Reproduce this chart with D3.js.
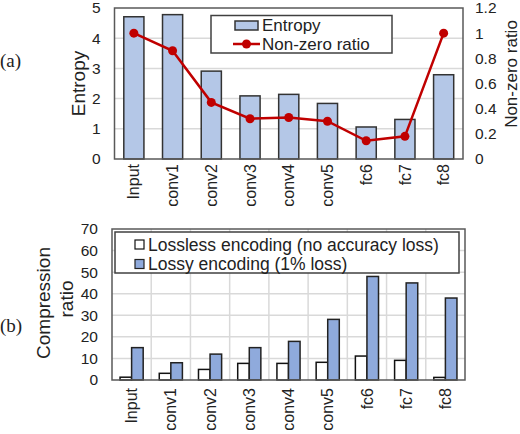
<!DOCTYPE html>
<html>
<head>
<meta charset="utf-8">
<script src="https://cdn.jsdelivr.net/npm/d3@7"></script>
<style>
  body { margin: 0; background: #fff; }
  text { font-family: "Liberation Sans", Arial, sans-serif; fill: #222; }
  .serif { font-family: "Liberation Serif", "DejaVu Serif", serif; }
</style>
</head>
<body>
<div class="chart"></div>
<script>
// layers shown on both panels
const layers = ["Input", "conv1", "conv2", "conv3", "conv4", "conv5", "fc6", "fc7", "fc8"]

// panel (a)
const entropy = [4.71, 4.78, 2.91, 2.09, 2.14, 1.84, 1.06, 1.31, 2.79]
const nonZero = [1.0, 0.86, 0.45, 0.32, 0.33, 0.30, 0.145, 0.18, 1.0]
const entropyTicks = [0, 1, 2, 3, 4, 5]
const ratioTicks = [0, 0.2, 0.4, 0.6, 0.8, 1, 1.2]

// panel (b)
const lossless = [1.3, 3.1, 4.9, 7.7, 7.7, 8.2, 11.1, 9.1, 1.2]
const lossy = [15, 8, 12, 15, 17.9, 28.1, 48, 45, 38]
const compTicks = [0, 10, 20, 30, 40, 50, 60, 70]

const width = 520
const height = 434

const svg = d3.select(".chart")
    .append("svg")
    .attr("width", width)
    .attr("height", height)

const grid = "#d9d9d9"
const frame = "#595959"
const fmt = d3.format("~g")

// ---------- (a) ----------
let a = {left: 114.5, right: 463, top: 8, bottom: 159}

const xA = d3.scaleBand()
    .domain(layers)
    .range([a.left, a.right])
    .paddingInner(0.48)
    .paddingOuter(0.24)

const yA = d3.scaleLinear().domain([0, 5]).range([a.bottom, a.top])
const yR = d3.scaleLinear().domain([0, 1.2]).range([a.bottom, a.top])

const gA = svg.append("g")

gA.append("g")
    .selectAll("line")
    .data(entropyTicks.slice(1, -1))
    .join("line")
    .attr("x1", a.left)
    .attr("x2", a.right)
    .attr("y1", d => yA(d))
    .attr("y2", d => yA(d))
    .attr("stroke", grid)
    .attr("stroke-width", 1.5)

gA.append("g")
    .selectAll("rect")
    .data(layers)
    .join("rect")
    .attr("x", d => xA(d))
    .attr("y", (d, i) => yA(entropy[i]))
    .attr("width", xA.bandwidth())
    .attr("height", (d, i) => a.bottom - yA(entropy[i]))
    .attr("fill", "#b4c7e7")
    .attr("stroke", "#333")
    .attr("stroke-width", 1.5)

const line = d3.line()
    .x((d, i) => xA(layers[i]) + xA.bandwidth() / 2)
    .y(d => yR(d))

gA.append("path")
    .datum(nonZero)
    .attr("d", line)
    .attr("fill", "none")
    .attr("stroke", "#c00000")
    .attr("stroke-width", 2.5)

gA.append("g")
    .selectAll("circle")
    .data(nonZero)
    .join("circle")
    .attr("cx", (d, i) => xA(layers[i]) + xA.bandwidth() / 2)
    .attr("cy", d => yR(d))
    .attr("r", 4.5)
    .attr("fill", "#c00000")

gA.append("rect")
    .attr("x", a.left)
    .attr("y", a.top)
    .attr("width", a.right - a.left)
    .attr("height", a.bottom - a.top)
    .attr("fill", "none")
    .attr("stroke", frame)
    .attr("stroke-width", 1.5)

gA.append("g")
    .attr("transform", `translate(${a.left},0)`)
    .call(d3.axisLeft(yA).tickValues(entropyTicks).tickSize(0).tickPadding(14).tickFormat(fmt))
gA.append("g")
    .attr("transform", `translate(${a.right},0)`)
    .call(d3.axisRight(yR).tickValues(ratioTicks).tickSize(0).tickPadding(12).tickFormat(fmt))

gA.selectAll(".domain").remove()
gA.selectAll(".tick text").style("font-size", "15.5px").attr("fill", "#333")

// rotated category labels
gA.append("g")
    .selectAll("text")
    .data(layers)
    .join("text")
    .attr("transform", d => `translate(${xA(d) + xA.bandwidth() / 2},164) rotate(-90)`)
    .attr("text-anchor", "end")
    .attr("dy", "0.35em")
    .style("font-size", "16px")
    .text(d => d)

gA.append("text")
    .attr("transform", "translate(85,83.5) rotate(-90)")
    .attr("text-anchor", "middle")
    .style("font-size", "19px")
    .text("Entropy")

gA.append("text")
    .attr("transform", "translate(517,74) rotate(-90)")
    .attr("text-anchor", "middle")
    .style("font-size", "17px")
    .text("Non-zero ratio")

gA.append("text")
    .attr("class", "serif")
    .attr("x", 0)
    .attr("y", 67)
    .style("font-size", "19px")
    .text("(a)")

// legend (a)
const legA = gA.append("g")
legA.append("rect")
    .attr("x", 211).attr("y", 15.5).attr("width", 181).attr("height", 37.5)
    .attr("fill", "#fff").attr("stroke", "#404040").attr("stroke-width", 1.5)
legA.append("rect")
    .attr("x", 235).attr("y", 21).attr("width", 23).attr("height", 9)
    .attr("fill", "#b4c7e7").attr("stroke", "#333").attr("stroke-width", 1.5)
legA.append("line")
    .attr("x1", 233).attr("x2", 260).attr("y1", 44).attr("y2", 44)
    .attr("stroke", "#c00000").attr("stroke-width", 2.5)
legA.append("circle")
    .attr("cx", 246.5).attr("cy", 44).attr("r", 4.5).attr("fill", "#c00000")
legA.append("text").attr("x", 262).attr("y", 31).style("font-size", "17px").text("Entropy")
legA.append("text").attr("x", 262).attr("y", 49.5).style("font-size", "17px").text("Non-zero ratio")

// ---------- (b) ----------
let b = {left: 112, right: 465, top: 229, bottom: 380}

const xB = d3.scaleBand()
    .domain(layers)
    .range([b.left, b.right])
    .paddingInner(0.41)
    .paddingOuter(0.205)

const series = ["lossless", "lossy"]
const xSub = d3.scaleBand().domain(series).range([0, xB.bandwidth()])
const yB = d3.scaleLinear().domain([0, 70]).range([b.bottom, b.top])

const gB = svg.append("g")

gB.append("g")
    .selectAll("line")
    .data(compTicks.slice(1, -1))
    .join("line")
    .attr("x1", b.left)
    .attr("x2", b.right)
    .attr("y1", d => yB(d))
    .attr("y2", d => yB(d))
    .attr("stroke", grid)
    .attr("stroke-width", 1.5)

// vertical grid at category boundaries
gB.append("g")
    .selectAll("line")
    .data(layers.slice(1))
    .join("line")
    .attr("x1", d => xB(d) - xB.step() * 0.205)
    .attr("x2", d => xB(d) - xB.step() * 0.205)
    .attr("y1", b.top)
    .attr("y2", b.bottom)
    .attr("stroke", grid)
    .attr("stroke-width", 1.5)

const groups = gB.append("g")
    .selectAll("g")
    .data(layers)
    .join("g")
    .attr("transform", d => `translate(${xB(d)},0)`)

groups.append("rect")
    .attr("x", xSub("lossless"))
    .attr("y", (d, i) => yB(lossless[i]))
    .attr("width", xSub.bandwidth())
    .attr("height", (d, i) => b.bottom - yB(lossless[i]))
    .attr("fill", "#fff")
    .attr("stroke", "#111")
    .attr("stroke-width", 1.5)

groups.append("rect")
    .attr("x", xSub("lossy"))
    .attr("y", (d, i) => yB(lossy[i]))
    .attr("width", xSub.bandwidth())
    .attr("height", (d, i) => b.bottom - yB(lossy[i]))
    .attr("fill", "#8faadc")
    .attr("stroke", "#222")
    .attr("stroke-width", 1.5)

gB.append("rect")
    .attr("x", b.left)
    .attr("y", b.top)
    .attr("width", b.right - b.left)
    .attr("height", b.bottom - b.top)
    .attr("fill", "none")
    .attr("stroke", frame)
    .attr("stroke-width", 1.5)

gB.append("g")
    .attr("transform", `translate(${b.left},0)`)
    .call(d3.axisLeft(yB).tickValues(compTicks).tickSize(0).tickPadding(14))

gB.selectAll(".domain").remove()
gB.selectAll(".tick text").style("font-size", "15.5px").attr("fill", "#333")

gB.append("g")
    .selectAll("text")
    .data(layers)
    .join("text")
    .attr("transform", d => `translate(${xB(d) + xB.bandwidth() / 2},388) rotate(-90)`)
    .attr("text-anchor", "end")
    .attr("dy", "0.35em")
    .style("font-size", "16px")
    .text(d => d)

gB.append("text")
    .attr("transform", "translate(50,303) rotate(-90)")
    .attr("text-anchor", "middle")
    .style("font-size", "19px")
    .text("Compression")
gB.append("text")
    .attr("transform", "translate(73,299) rotate(-90)")
    .attr("text-anchor", "middle")
    .style("font-size", "19px")
    .text("ratio")

gB.append("text")
    .attr("class", "serif")
    .attr("x", 0)
    .attr("y", 332)
    .style("font-size", "19px")
    .text("(b)")

// legend (b)
const legB = gB.append("g")
legB.append("rect")
    .attr("x", 115).attr("y", 232).attr("width", 344).attr("height", 41)
    .attr("fill", "#fff").attr("stroke", "#404040").attr("stroke-width", 1.5)
legB.append("rect")
    .attr("x", 135).attr("y", 240).attr("width", 9).attr("height", 9)
    .attr("fill", "#fff").attr("stroke", "#111").attr("stroke-width", 1.2)
legB.append("rect")
    .attr("x", 135).attr("y", 259.5).attr("width", 9).attr("height", 9)
    .attr("fill", "#8faadc").attr("stroke", "#222").attr("stroke-width", 1.2)
legB.append("text").attr("x", 148).attr("y", 250.5).style("font-size", "17.5px")
    .text("Lossless encoding (no accuracy loss)")
legB.append("text").attr("x", 148).attr("y", 269.5).style("font-size", "17.5px")
    .text("Lossy encoding (1% loss)")
</script>
</body>
</html>
